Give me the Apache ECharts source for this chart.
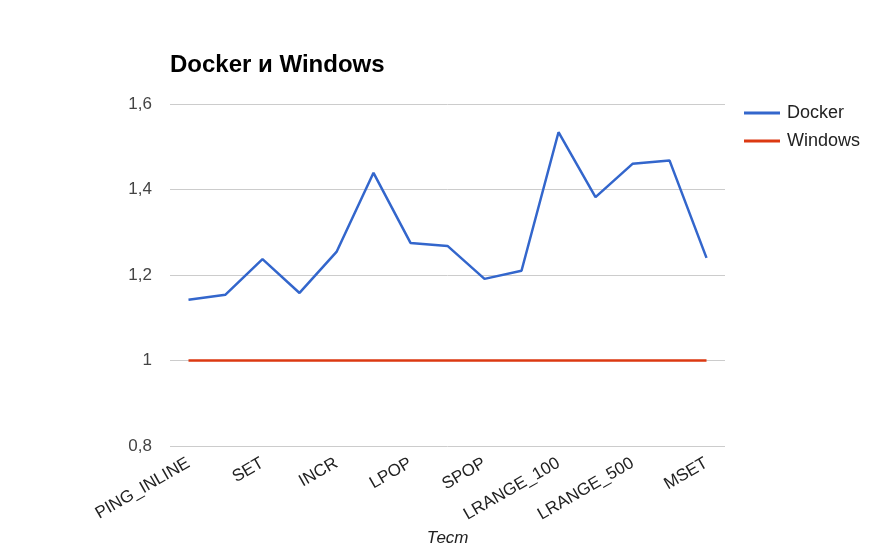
<!DOCTYPE html>
<html>
<head>
  <meta charset="utf-8">
  <title>Docker и Windows</title>
  <script src="https://cdn.jsdelivr.net/npm/echarts@6/dist/echarts.min.js"></script>
  <style>
    html, body { margin: 0; padding: 0; background: #fff; }
    #chart { width: 892px; height: 547px; }
  </style>
</head>
<body>
  <div id="chart"></div>
  <script>
    // тесты redis-benchmark
    var tests = ['PING_INLINE', 'PING_BULK', 'SET', 'GET', 'INCR', 'LPUSH', 'LPOP', 'SADD',
                 'SPOP', 'LPUSH (LRANGE)', 'LRANGE_100', 'LRANGE_300', 'LRANGE_500', 'LRANGE_600', 'MSET'];
    var docker = [1.142, 1.154, 1.237, 1.158, 1.254, 1.439, 1.275, 1.268,
                  1.191, 1.210, 1.534, 1.382, 1.460, 1.468, 1.240];
    var windows = [1, 1, 1, 1, 1, 1, 1, 1, 1, 1, 1, 1, 1, 1, 1];
    var yTicks = [0.8, 1, 1.2, 1.4, 1.6];

    var chart = echarts.init(document.getElementById('chart'));
    var font = '"Liberation Sans", Arial, sans-serif';

    chart.setOption({
      animation: false,
      color: ['#3366cc', '#dc3912'],
      textStyle: { fontFamily: font },
      title: {
        text: 'Docker и Windows',
        left: 165,
        top: 48,
        textStyle: { fontFamily: font, fontSize: 24, fontWeight: 'bold', color: '#000' }
      },
      legend: {
        orient: 'vertical',
        left: 739,
        top: 99,
        itemWidth: 36,
        itemHeight: 3,
        itemGap: 10,
        icon: 'rect',
        textStyle: { fontFamily: font, fontSize: 18, color: '#222', padding: [0, 0, 0, 2] },
        data: ['Docker', 'Windows']
      },
      grid: { left: 170, right: 167, top: 104, bottom: 101, outerBoundsMode: 'none' },
      xAxis: {
        type: 'category',
        data: tests,
        boundaryGap: true,
        name: 'Тест',
        nameLocation: 'middle',
        nameGap: 84,
        nameTextStyle: { fontFamily: font, fontSize: 17, fontStyle: 'italic', color: '#222' },
        axisLine: { show: false },
        axisTick: { show: false },
        axisLabel: {
          interval: 1,
          rotate: 30,
          margin: 16,
          fontSize: 17,
          color: '#222',
          fontFamily: font
        }
      },
      yAxis: {
        type: 'value',
        min: yTicks[0],
        max: yTicks[yTicks.length - 1],
        interval: 0.2,
        axisLine: { show: false },
        axisTick: { show: false },
        splitLine: { lineStyle: { color: '#cccccc', width: 1 } },
        axisLabel: {
          margin: 18,
          fontSize: 17,
          color: '#444',
          fontFamily: font,
          formatter: function (v) { return String(+v.toFixed(1)).replace('.', ','); }
        }
      },
      series: [
        { name: 'Docker', type: 'line', data: docker, showSymbol: false, lineStyle: { width: 2.5 } },
        { name: 'Windows', type: 'line', data: windows, showSymbol: false, lineStyle: { width: 2.5 } }
      ]
    });
  </script>
</body>
</html>
